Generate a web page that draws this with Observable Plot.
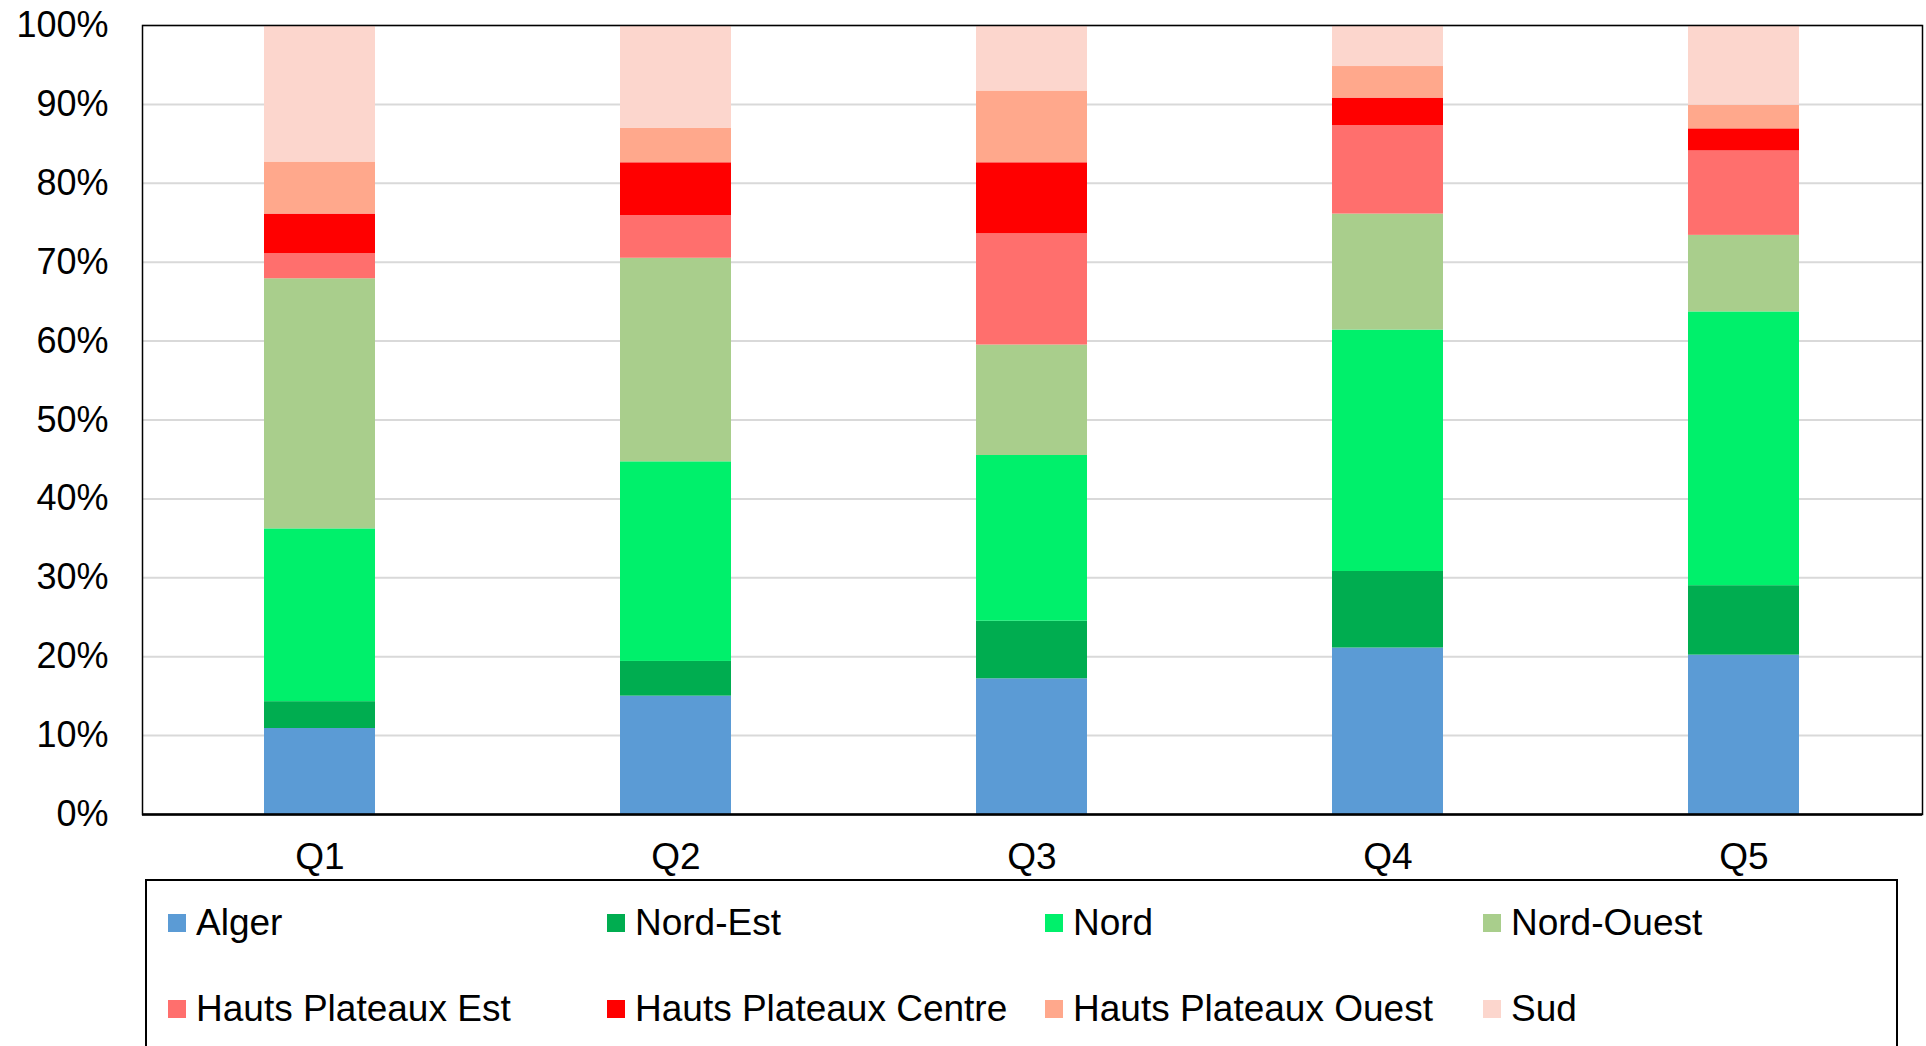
<!DOCTYPE html>
<html>
<head>
<meta charset="utf-8">
<script src="https://cdn.jsdelivr.net/npm/d3@7"></script>
<script src="https://cdn.jsdelivr.net/npm/@observablehq/plot@0.6"></script>
<style>
  html, body { margin: 0; padding: 0; background: #fff; overflow: hidden; }
  body { width: 1926px; height: 1046px; position: relative; font-family: "Liberation Sans", Arial, sans-serif; }
  #chart { position: absolute; left: 0; top: 0; }
  #legend { position: absolute; left: 145px; top: 879px; width: 1753px; height: 200px; border: 2px solid #000; box-sizing: border-box; background: #fff; }
  .item { position: absolute; display: flex; align-items: center; font-size: 37px; color: #000; white-space: nowrap; }
  .sw { width: 18px; height: 18px; margin-right: 10px; }
</style>
</head>
<body>
<div id="chart"></div>
<div id="legend"></div>
<script>
const quintiles = ["Q1", "Q2", "Q3", "Q4", "Q5"];
const regions = ["Alger", "Nord-Est", "Nord", "Nord-Ouest", "Hauts Plateaux Est", "Hauts Plateaux Centre", "Hauts Plateaux Ouest", "Sud"];
const colors = ["#5B9BD5", "#00AD50", "#00F06B", "#A9CE8C", "#FF6F6D", "#FF0000", "#FFA88C", "#FCD6CD"];
const yTicks = [0, 10, 20, 30, 40, 50, 60, 70, 80, 90, 100];

const alger       = [10.9, 15.0, 17.2, 21.1, 20.2];
const nordEst     = [3.4, 4.4, 7.3, 9.7, 8.8];
const nord        = [21.9, 25.3, 21.0, 30.6, 34.7];
const nordOuest   = [31.7, 25.8, 14.0, 14.7, 9.7];
const hpEst       = [3.2, 5.4, 14.1, 11.2, 10.7];
const hpCentre    = [5.0, 6.7, 9.0, 3.5, 2.8];
const hpOuest     = [6.6, 4.4, 9.1, 4.0, 3.0];
const sud         = [17.3, 13.0, 8.3, 5.2, 10.1];

const series = [alger, nordEst, nord, nordOuest, hpEst, hpCentre, hpOuest, sud];
const data = [];
regions.forEach((r, i) => quintiles.forEach((q, j) => data.push({q, region: r, value: series[i][j]})));

const chart = Plot.plot({
  width: 1926,
  height: 878,
  marginTop: 25,
  marginBottom: 64,
  marginLeft: 142,
  marginRight: 4,
  style: { fontFamily: "'Liberation Sans', Arial, sans-serif", fontSize: "36px", color: "#000", background: "transparent" },
  x: { domain: quintiles, paddingInner: 0.688, paddingOuter: 0.344, label: null, tickSize: 0, tickPadding: 28, fontSize: "37px" },
  y: { domain: [0, 100], ticks: yTicks, tickFormat: d => d + "%", label: null, tickSize: 0, tickPadding: 34 },
  color: { domain: regions, range: colors },
  marks: [
    Plot.gridY(yTicks, { stroke: "#d9d9d9", strokeOpacity: 1, strokeWidth: 2 }),
    Plot.barY(data, { x: "q", y: "value", fill: "region", order: regions }),
    Plot.frame({ stroke: "#000", strokeWidth: 1.5 }),
    Plot.ruleY([0], { stroke: "#000", strokeWidth: 2.5 }),
    Plot.axisX({ tickSize: 0, tickPadding: 28, fontSize: 37 })
  ]
});
document.getElementById("chart").appendChild(chart);

const legend = document.getElementById("legend");
const colX = [21, 460, 898, 1336];
const rowY = [42, 128];
regions.forEach((r, i) => {
  const el = document.createElement("div");
  el.className = "item";
  el.style.left = colX[i % 4] + "px";
  el.style.top = (rowY[Math.floor(i / 4)] - 21) + "px";
  el.style.height = "42px";
  const sw = document.createElement("div");
  sw.className = "sw";
  sw.style.background = colors[i];
  const t = document.createElement("span");
  t.textContent = r;
  el.appendChild(sw);
  el.appendChild(t);
  legend.appendChild(el);
});
</script>
</body>
</html>
